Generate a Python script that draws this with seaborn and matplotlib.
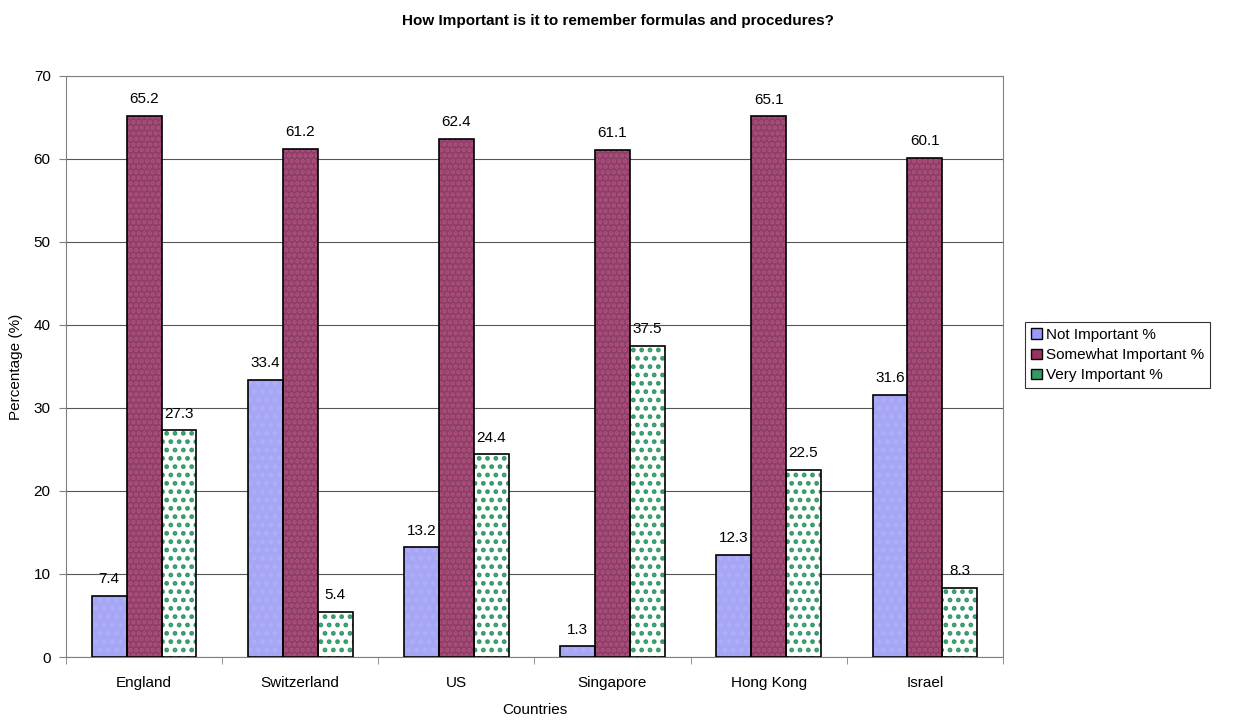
import numpy as np
import pandas as pd
import seaborn as sns
import matplotlib.pyplot as plt
from matplotlib.patches import Rectangle

countries = ['England', 'Switzerland', 'US', 'Singapore', 'Hong Kong', 'Israel']
series = ['Not Important %', 'Somewhat Important %', 'Very Important %']
not_important = [7.4, 33.4, 13.2, 1.3, 12.3, 31.6]
somewhat_important = [65.2, 61.2, 62.4, 61.1, 65.1, 60.1]
very_important = [27.3, 5.4, 24.4, 37.5, 22.5, 8.3]

df = pd.DataFrame({
    'country': countries * 3,
    'series': [s for s in series for _ in countries],
    'value': not_important + somewhat_important + very_important,
})

sns.set_style('white')
plt.rcParams['font.family'] = ['Liberation Sans', 'DejaVu Sans']
plt.rcParams['hatch.linewidth'] = 2.2
plt.rcParams['text.color'] = 'black'
plt.rcParams['axes.labelcolor'] = 'black'
plt.rcParams['xtick.color'] = 'black'
plt.rcParams['ytick.color'] = 'black'

face = {'Not Important %': '#9999FF', 'Somewhat Important %': '#993366', 'Very Important %': 'white'}
hatch_col = {'Not Important %': '#AEAEFF', 'Somewhat Important %': '#B24F80', 'Very Important %': '#339966'}
hatches = {'Not Important %': '..', 'Somewhat Important %': '...', 'Very Important %': '..'}

fig = plt.figure(figsize=(12.36, 7.22), dpi=100)
ax = fig.add_axes([0.0534, 0.090, 0.758, 0.805])

sns.barplot(data=df, x='country', y='value', hue='series', palette=face,
            width=0.67, ax=ax, zorder=2, legend=False)

for container, s in zip(ax.containers, series):
    for bar in container:
        bar.set_hatch(hatches[s])
        bar.set_edgecolor(hatch_col[s])
        bar.set_linewidth(0)
        ax.add_patch(Rectangle(bar.get_xy(), bar.get_width(), bar.get_height(),
                               fill=False, edgecolor='black', linewidth=1.2, zorder=3))
    ax.bar_label(container, fmt='%.1f', padding=7, fontsize=11)

ax.set_ylim(0, 70)
ax.set_yticks(range(0, 71, 10))
ax.set_xlim(-0.5, 5.5)
ax.yaxis.grid(True, color='#555555', linewidth=0.8)
ax.set_axisbelow(True)
for sp in ax.spines.values():
    sp.set_color('#808080')
ax.tick_params(axis='y', left=True, labelsize=11, length=5, color='#808080', pad=6)
ax.set_xticks(np.arange(-0.5, 6, 1), minor=True)
ax.tick_params(axis='x', which='major', bottom=True, length=0, labelsize=11, pad=14)
ax.tick_params(axis='x', which='minor', bottom=True, length=5, color='#808080')
ax.set_xlabel('Countries', fontsize=11, labelpad=9)
ax.set_ylabel('Percentage (%)', fontsize=11, labelpad=8)
fig.suptitle('How Important is it to remember formulas and procedures?',
             fontsize=11, fontweight='bold', x=0.5, y=0.98)

handles = [Rectangle((0, 0), 1, 1, facecolor=face[s], edgecolor='black', linewidth=1)
           for s in series]
handles[2] = Rectangle((0, 0), 1, 1, facecolor='#339966', edgecolor='black', linewidth=1)
leg = fig.legend(handles, series, loc='center left', bbox_to_anchor=(0.823, 0.508),
                 fontsize=11, frameon=True, fancybox=False, handlelength=0.7,
                 handleheight=0.7, handletextpad=0.3, borderpad=0.4, labelspacing=0.4)
leg.get_frame().set_edgecolor('black')
leg.get_frame().set_linewidth(0.8)

fig.savefig('out.png', dpi=100)
